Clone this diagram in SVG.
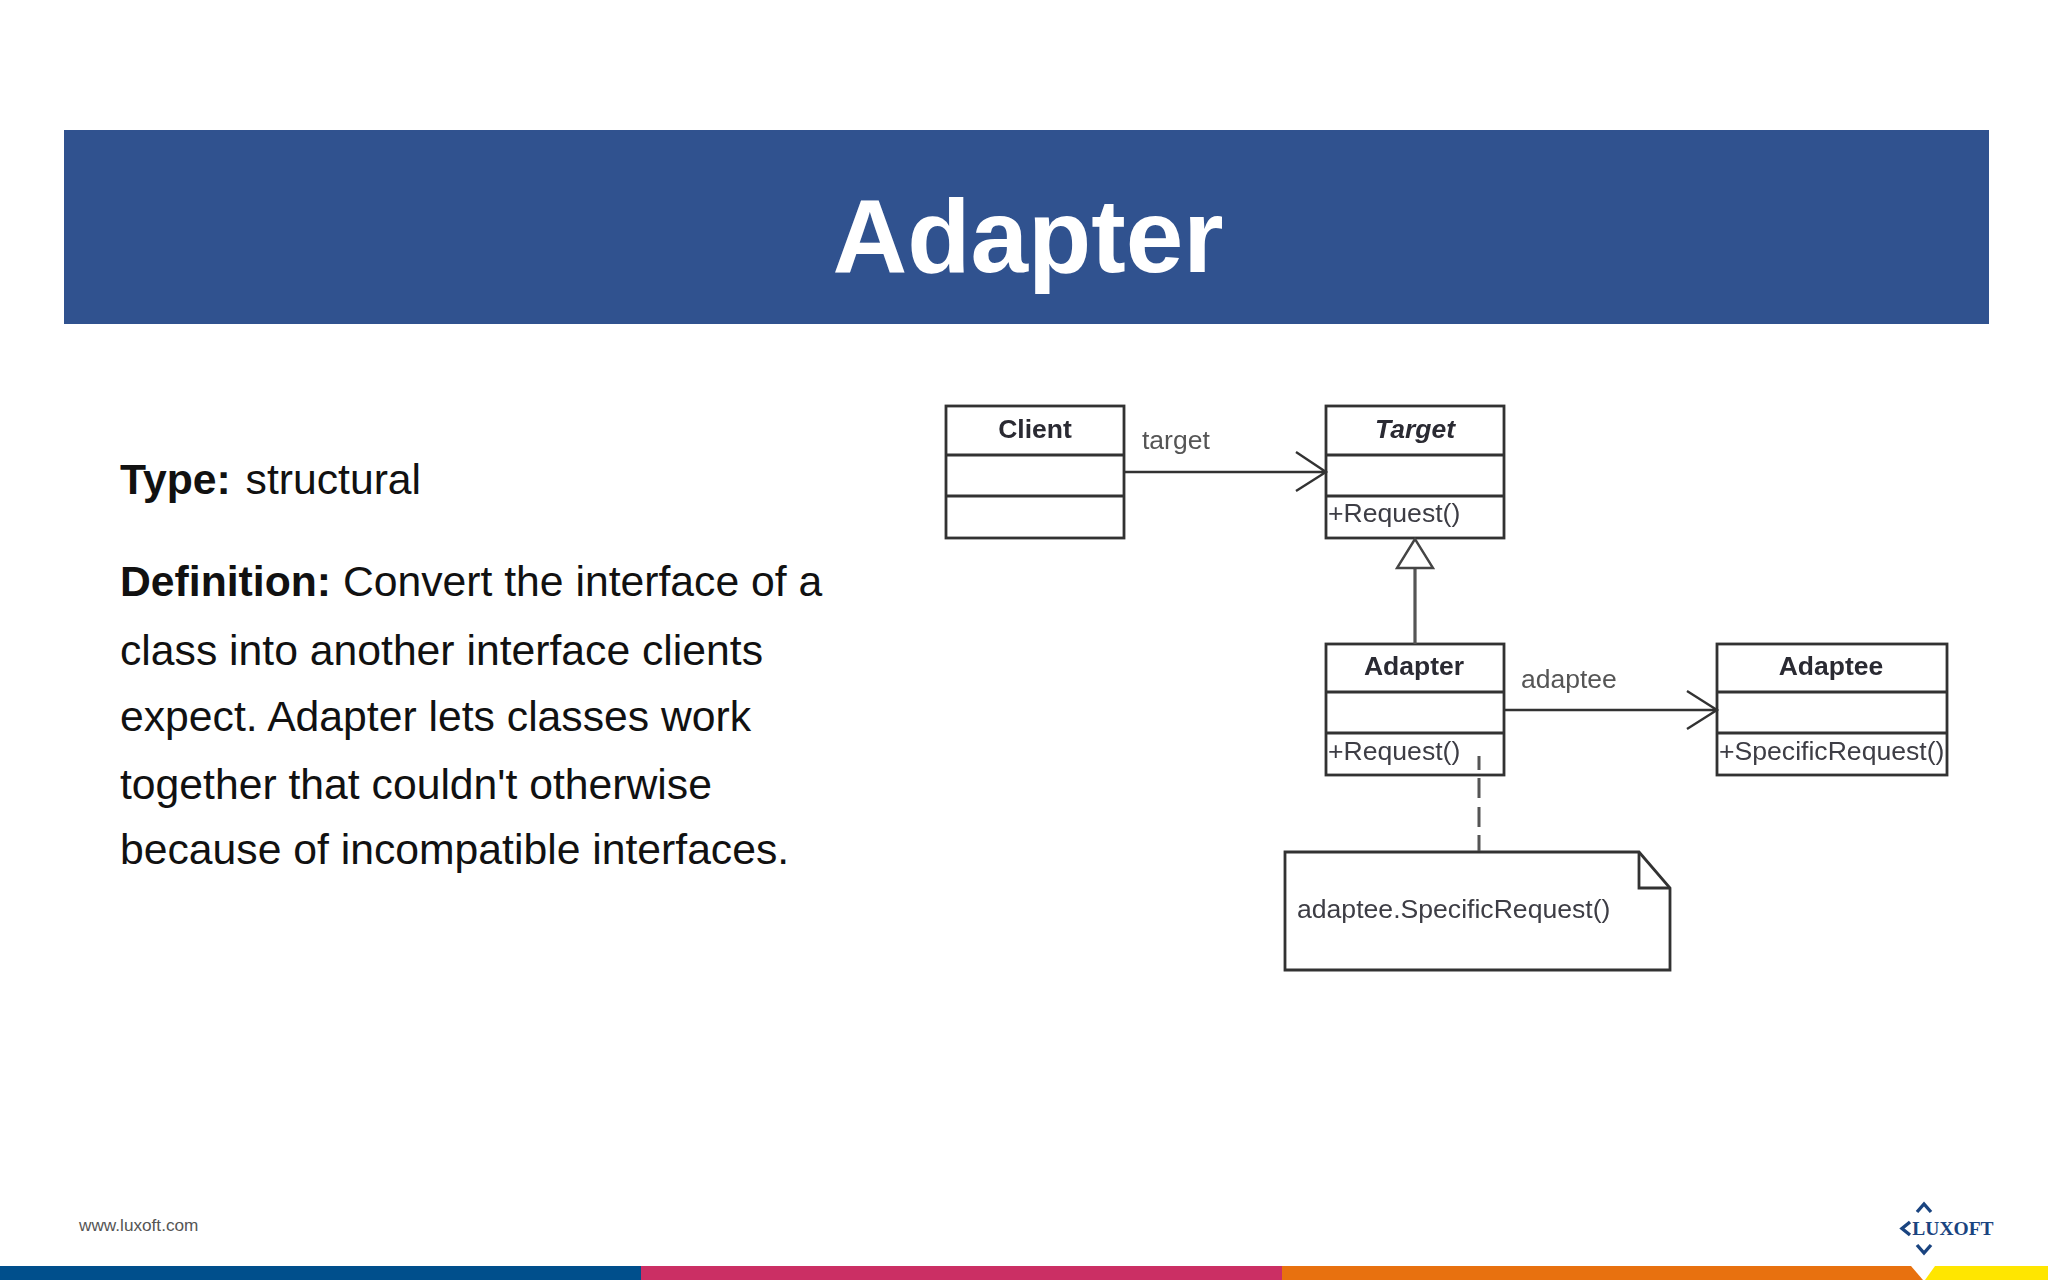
<svg xmlns="http://www.w3.org/2000/svg" width="2048" height="1280" viewBox="0 0 2048 1280">
<style>
text{font-family:"Liberation Sans",Arial,sans-serif}
.body{font-size:42.7px;fill:#111}
.b{font-weight:700}
.box{fill:#fff;stroke:#333;stroke-width:2.8}
.div{fill:none;stroke:#333;stroke-width:2.8}
.name{font-size:26.5px;font-weight:700;fill:#2a2a33;text-anchor:middle}
.lab{font-size:26.5px;fill:#555}
.op{font-size:26.6px;fill:#3d3d44}
.con{fill:none;stroke:#333;stroke-width:2.4}
.soft{filter:url(#soft)}
</style>
<defs><filter id="soft" x="-5%" y="-5%" width="110%" height="110%"><feGaussianBlur stdDeviation="0.55"/></filter></defs>
<rect width="2048" height="1280" fill="#fff"/>
<g id="header">
<rect x="64" y="130" width="1925" height="194" fill="#30528f"/>
<text x="1028" y="272" font-size="103.5" font-weight="700" fill="#fff" text-anchor="middle">Adapter</text>
</g>
<g id="description">
<text class="body" x="120" y="494"><tspan class="b">Type:</tspan><tspan dx="3"> structural</tspan></text>
<text class="body" x="120" y="596"><tspan class="b">Definition:</tspan> Convert the interface of a</text>
<text class="body" x="120" y="665">class into another interface clients</text>
<text class="body" x="120" y="731">expect. Adapter lets classes work</text>
<text class="body" x="120" y="799">together that couldn't otherwise</text>
<text class="body" x="120" y="864">because of incompatible interfaces.</text>
</g>
<g id="client" class="soft">
<rect class="box" x="946" y="406" width="178" height="132"/>
<path class="div" d="M946 455H1124M946 496H1124"/>
<text class="name" x="1035" y="438">Client</text>
</g>
<text class="lab soft" x="1142" y="449">target</text>
<g id="target" class="soft">
<rect class="box" x="1326" y="406" width="178" height="132"/>
<path class="div" d="M1326 455H1504M1326 496H1504"/>
<text class="name" x="1415" y="438" font-style="italic">Target</text>
<text class="op" x="1328" y="522">+Request()</text>
</g>
<g id="adapter" class="soft">
<rect class="box" x="1326" y="644" width="178" height="131"/>
<path class="div" d="M1326 692H1504M1326 733H1504"/>
<text class="name" x="1414" y="675">Adapter</text>
<text class="op" x="1328" y="760">+Request()</text>
</g>
<text class="lab soft" x="1521" y="688">adaptee</text>
<g id="adaptee" class="soft">
<rect class="box" x="1717" y="644" width="230" height="131"/>
<path class="div" d="M1717 692H1947M1717 733H1947"/>
<text class="name" x="1831" y="675">Adaptee</text>
<text class="op" x="1719" y="760">+SpecificRequest()</text>
</g>
<g id="note" class="soft">
<path class="box" d="M1285 852H1639L1670 888V970H1285Z"/>
<path class="div" d="M1639 852V888H1670"/>
<text class="op" x="1297" y="918">adaptee.SpecificRequest()</text>
</g>
<g id="connectors" class="soft">
<path class="con" d="M1124 472H1326M1296 452L1326 472L1296 491"/>
<path class="con" d="M1504 710H1717M1687 691L1717 710L1687 729"/>
<path class="con" d="M1415 644V569" style="stroke:#555;stroke-width:3.2"/>
<path class="con" d="M1415 539L1397 568H1433Z" style="fill:#fff;stroke:#444"/>
<path class="con" d="M1479 756V770M1479 778V798M1479 807V827M1479 835V851" style="stroke:#555;stroke-width:3"/>
</g>
<g id="footer">
<text x="79" y="1231" font-size="17.2" fill="#555">www.luxoft.com</text>
<rect x="0" y="1266" width="641" height="14" fill="#004f8c"/>
<rect x="641" y="1266" width="641" height="14" fill="#cb2f64"/>
<path d="M1282 1266H1911L1923 1280H1282Z" fill="#e8710f"/>
<path d="M1935 1266H2048V1280H1925Z" fill="#ffe600"/>
</g>
<g id="logo" fill="none" stroke="#1a4480" stroke-width="3.4">
<path d="M1917 1212L1924 1204L1931 1212M1917 1245L1924 1253L1931 1245M1910 1222L1902 1228.500L1910 1235"/>
<text x="1953" y="1235" font-size="19.500" font-weight="700" fill="#1a4480" stroke="none" text-anchor="middle" style="font-family:'Liberation Serif',serif">LUXOFT</text>
</g>
</svg>
